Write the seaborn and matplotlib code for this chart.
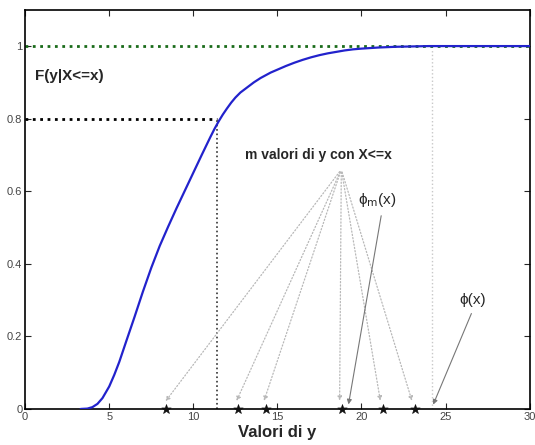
import matplotlib
matplotlib.use("Agg")
import matplotlib.pyplot as plt
import seaborn as sns
import pandas as pd

# curve F(y|X<=x), points
y_vals = [3.3, 3.7, 4.0, 4.3, 4.6, 5.0, 5.3, 5.6, 6.0, 6.5, 7.0, 7.5, 8.0, 8.5,
          9.0, 9.5, 10.0, 10.5, 11.0, 11.25, 11.5, 11.75, 12.0, 12.25, 12.5, 12.8,
          13.2, 13.6, 14.0, 14.6, 15.0, 15.5, 16.0, 16.5, 17.0, 17.5, 18.0, 18.5,
          19.0, 19.5, 20.0, 21.0, 22.0, 23.0, 24.0, 27.0, 30.0]
cdf_vals = [0.0, 0.001, 0.005, 0.014, 0.03, 0.062, 0.094, 0.13, 0.185, 0.253, 0.323,
            0.389, 0.449, 0.502, 0.553, 0.602, 0.651, 0.70, 0.748, 0.771, 0.792, 0.811,
            0.828, 0.844, 0.858, 0.872, 0.886, 0.90, 0.912, 0.927, 0.935, 0.945, 0.954,
            0.962, 0.969, 0.975, 0.98, 0.984, 0.988, 0.991, 0.993, 0.996, 0.998, 0.999,
            1.0, 1.0, 1.0]

# sampled values of y with X<=x
sample_y = [8.4, 12.65, 14.3, 18.85, 21.3, 23.2]

quant_level = 0.8
quant_y = 11.4      # point of the curve at level 0.8
phi_y = 24.2        # phi(x)
phi_m_y = 19.2      # phi_m(x)

sns.set_style("ticks")
plt.rcParams["font.family"] = ["Liberation Sans", "DejaVu Sans"]
plt.rcParams["mathtext.fontset"] = "dejavusans"

fig, ax = plt.subplots(figsize=(5.35, 4.45), dpi=100)
fig.subplots_adjust(left=0.047, right=0.99, bottom=0.081, top=0.978)

curve_df = pd.DataFrame({"y": y_vals, "F": cdf_vals})

# reference lines
ax.plot([0, 30], [1, 1], color="#1a6b1a", linestyle=":", linewidth=2, zorder=1)
ax.plot([0, quant_y], [quant_level, quant_level], color="black", linestyle=":", linewidth=2, zorder=1)
ax.plot([quant_y, quant_y], [0, quant_level], color="#333333", linestyle=":", linewidth=1.2, zorder=1)
ax.plot([phi_y, phi_y], [0, 0.99], color="#c8c8c8", linestyle=":", linewidth=1, zorder=1)

sns.lineplot(data=curve_df, x="y", y="F", color="#2222cc", linewidth=1.6, ax=ax, zorder=3)

# dotted arrows from the label to every sample
for sy in sample_y:
    ax.annotate("", xy=(sy - 0.15, 0.015), xytext=(18.8, 0.66),
                arrowprops=dict(arrowstyle="-|>", color="#b8b8b8", linestyle=":",
                                linewidth=0.9, mutation_scale=6))

sns.scatterplot(x=sample_y, y=[0] * len(sample_y), marker="*", s=50, color="#111111",
                edgecolor="#111111", linewidth=0.5, ax=ax, zorder=5, clip_on=False)

# solid arrows for phi_m(x) and phi(x)
ax.annotate("", xy=(phi_m_y, 0.005), xytext=(21.2, 0.54),
            arrowprops=dict(arrowstyle="-|>", color="#777777", linewidth=0.8, mutation_scale=7))
ax.annotate("", xy=(phi_y, 0.005), xytext=(26.6, 0.27),
            arrowprops=dict(arrowstyle="-|>", color="#777777", linewidth=0.8, mutation_scale=7))

ax.text(0.6, 0.917, "F(y|X<=x)", fontsize=11, fontweight="bold", va="center", ha="left")
ax.text(13.1, 0.70, "m valori di y con X<=x", fontsize=10, fontweight="bold", va="center", ha="left")
ax.text(19.8, 0.577, "ϕ$_\\mathrm{m}$(x)", fontsize=11, va="center", ha="left")
ax.text(25.8, 0.30, "ϕ(x)", fontsize=11, va="center", ha="left")

ax.set_xlim(0, 30)
ax.set_ylim(0, 1.1)
ax.set_xticks([0, 5, 10, 15, 20, 25, 30])
ax.set_yticks([0, 0.2, 0.4, 0.6, 0.8, 1])
ax.set_yticklabels(["0", "0.2", "0.4", "0.6", "0.8", "1"])
ax.tick_params(direction="in", top=True, right=True, labelsize=8, labelcolor="#444444",
               length=4, width=0.8, pad=2)
for sp in ax.spines.values():
    sp.set_linewidth(1.2)
    sp.set_color("black")
ax.set_xlabel("Valori di y", fontsize=12, fontweight="bold", labelpad=2)
ax.set_ylabel("")

fig.savefig("out.png", dpi=100)
